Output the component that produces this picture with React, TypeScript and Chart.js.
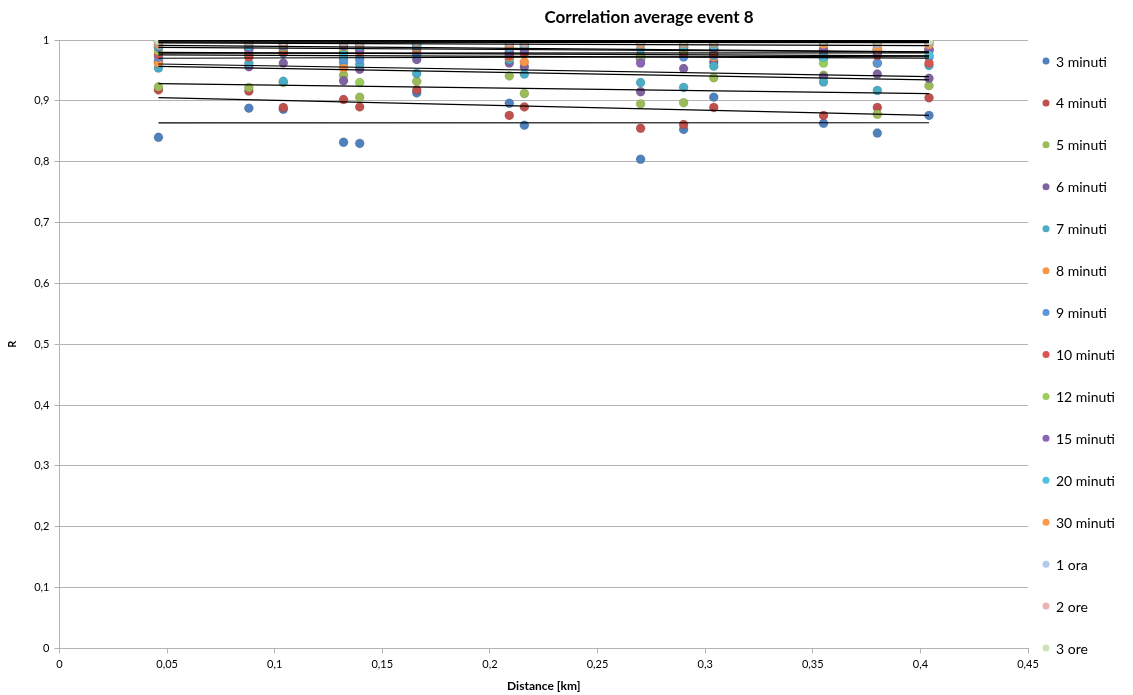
import React, { useEffect, useRef } from "react";
import { Chart, registerables } from "chart.js";

Chart.register(...registerables);

const chartTitle = "Correlation average event 8";
const xTitle = "Distance [km]";
const yTitle = "R";

const distances = [0.046, 0.088, 0.104, 0.132, 0.1395, 0.166, 0.209, 0.216, 0.27, 0.29, 0.304, 0.355, 0.38, 0.404];

const seriesNames = [
  "3 minuti", "4 minuti", "5 minuti", "6 minuti", "7 minuti", "8 minuti", "9 minuti",
  "10 minuti", "12 minuti", "15 minuti", "20 minuti", "30 minuti", "1 ora", "2 ore", "3 ore",
];

const seriesColors = [
  "#4F81BD", "#C0504D", "#9BBB59", "#8064A2", "#4BACC6", "#F79646", "#5A95D8",
  "#D9534F", "#9ACD5A", "#8B63B8", "#4FC1E0", "#F99B4C", "#B4C8EA", "#E9B3B3", "#CFE2BE",
];

const min3 = [0.84, 0.888, 0.886, 0.832, 0.83, 0.913, 0.896, 0.86, 0.804, 0.853, 0.906, 0.863, 0.847, 0.876];
const min4 = [0.918, 0.916, 0.889, 0.902, 0.89, 0.918, 0.876, 0.89, 0.855, 0.861, 0.889, 0.876, 0.889, 0.905];
const min5 = [0.923, 0.922, 0.93, 0.942, 0.906, 0.932, 0.941, 0.912, 0.895, 0.897, 0.938, 0.942, 0.878, 0.925];
const min6 = [0.965, 0.956, 0.962, 0.933, 0.952, 0.968, 0.962, 0.956, 0.915, 0.953, 0.964, 0.939, 0.944, 0.937];
const min7 = [0.954, 0.962, 0.932, 0.962, 0.96, 0.945, 0.968, 0.944, 0.93, 0.922, 0.957, 0.931, 0.917, 0.958];
const min8 = [0.962, 0.978, 0.985, 0.954, 0.975, 0.978, 0.972, 0.964, 0.968, 0.975, 0.972, 0.975, 0.962, 0.985];
const min9 = [0.972, 0.975, 0.978, 0.968, 0.968, 0.976, 0.978, 0.985, 0.97, 0.972, 0.975, 0.97, 0.962, 0.972];
const min10 = [0.976, 0.972, 0.98, 0.98, 0.982, 0.984, 0.974, 0.978, 0.975, 0.98, 0.978, 0.982, 0.975, 0.962];
const min12 = [0.982, 0.985, 0.988, 0.984, 0.93, 0.988, 0.985, 0.99, 0.972, 0.985, 0.984, 0.962, 0.985, 0.982];
const min15 = [0.988, 0.985, 0.99, 0.99, 0.986, 0.99, 0.98, 0.984, 0.962, 0.988, 0.986, 0.985, 0.98, 0.984];
const min20 = [0.99, 0.99, 0.992, 0.975, 0.99, 0.992, 0.988, 0.99, 0.985, 0.99, 0.99, 0.972, 0.985, 0.975];
const min30 = [0.993, 0.995, 0.994, 0.995, 0.993, 0.996, 0.992, 0.994, 0.993, 0.994, 0.995, 0.993, 0.984, 0.992];
const ora1 = [0.997, 0.996, 0.997, 0.996, 0.996, 0.997, 0.996, 0.995, 0.996, 0.996, 0.997, 0.997, 0.994, 0.996];
const ore2 = [0.998, 0.998, 0.998, 0.998, 0.998, 0.998, 0.997, 0.997, 0.997, 0.998, 0.998, 0.998, 0.996, 0.998];
const ore3 = [0.999, 1.0, 0.999, 1.0, 0.999, 0.999, 0.999, 1.0, 0.999, 0.999, 1.0, 0.999, 0.999, 0.999];

const seriesValues = [min3, min4, min5, min6, min7, min8, min9, min10, min12, min15, min20, min30, ora1, ore2, ore3];

const xTicks = [0, 0.05, 0.1, 0.15, 0.2, 0.25, 0.3, 0.35, 0.4, 0.45];
const yTicks = [0, 0.1, 0.2, 0.3, 0.4, 0.5, 0.6, 0.7, 0.8, 0.9, 1];

const FONT = "Lato, 'Open Sans', sans-serif";

function fmt(v: number) {
  const r = Math.round(v * 1000) / 1000;
  return String(r).replace(".", ",");
}

function trend(xs: number[], ys: number[]) {
  const n = xs.length;
  let sx = 0, sy = 0, sxx = 0, sxy = 0;
  for (let i = 0; i < n; i++) {
    sx += xs[i]; sy += ys[i]; sxx += xs[i] * xs[i]; sxy += xs[i] * ys[i];
  }
  const slope = (n * sxy - sx * sy) / (n * sxx - sx * sx);
  const intercept = (sy - slope * sx) / n;
  const x0 = Math.min(...xs);
  const x1 = Math.max(...xs);
  return [
    { x: x0, y: intercept + slope * x0 },
    { x: x1, y: intercept + slope * x1 },
  ];
}

const overlayPlugin = {
  id: "overlay",
  afterDraw(chart: any) {
    const ctx = chart.ctx;
    ctx.save();
    // title
    ctx.fillStyle = "#000";
    ctx.font = `bold 17px ${FONT}`;
    ctx.textAlign = "center";
    ctx.textBaseline = "middle";
    ctx.fillText(chartTitle, 649, 18);
    // legend
    const startY = 61;
    const step = 41.93;
    ctx.textAlign = "left";
    ctx.font = `14px ${FONT}`;
    seriesNames.forEach((name, i) => {
      const y = startY + i * step;
      ctx.beginPath();
      ctx.arc(1046, y, 3.5, 0, Math.PI * 2);
      ctx.fillStyle = seriesColors[i];
      ctx.fill();
      ctx.fillStyle = "#000";
      ctx.fillText(name, 1056, y + 1);
    });
    ctx.restore();
  },
};

export default function App() {
  const canvasRef = useRef<HTMLCanvasElement | null>(null);

  useEffect(() => {
    document.body.style.margin = "0";
    const canvas = canvasRef.current;
    if (!canvas) return;

    const pointSets = seriesNames.map((name, i) => ({
      type: "scatter" as const,
      label: name,
      data: distances.map((d, j) => ({ x: d, y: seriesValues[i][j] })),
      backgroundColor: seriesColors[i],
      borderColor: "rgba(0,0,0,0.18)",
      borderWidth: 0.6,
      pointRadius: 4.5,
      pointHoverRadius: 4.5,
      showLine: false,
      order: 100 - i,
    }));

    const trendSets = seriesNames.map((name, i) => ({
      type: "line" as const,
      label: name + " trend",
      data: trend(distances, seriesValues[i]),
      borderColor: "#000",
      borderWidth: 1.2,
      pointRadius: 0,
      fill: false,
      order: 1,
    }));

    const chart = new Chart(canvas, {
      type: "scatter",
      data: { datasets: [...pointSets, ...trendSets] as any },
      options: {
        animation: false,
        responsive: false,
        maintainAspectRatio: false,
        layout: { padding: { top: 40, right: 105, left: 6, bottom: 2 } },
        plugins: {
          legend: { display: false },
          title: { display: false },
          tooltip: { enabled: false },
        },
        scales: {
          x: {
            type: "linear",
            min: 0,
            max: 0.45,
            afterBuildTicks: (axis: any) => {
              axis.ticks = xTicks.map((v) => ({ value: v }));
            },
            ticks: {
              callback: (v: any) => fmt(Number(v)),
              color: "#000",
              font: { family: FONT, size: 11 },
              padding: 4,
              maxRotation: 0,
              autoSkip: false,
            },
            grid: { drawOnChartArea: false, drawTicks: true, tickLength: 5, color: "#b3b3b3" },
            border: { color: "#b3b3b3", width: 1 },
            title: {
              display: true,
              text: xTitle,
              color: "#000",
              font: { family: FONT, size: 12, weight: "bold" },
              padding: { top: 4, bottom: 0 },
            },
          },
          y: {
            type: "linear",
            min: 0,
            max: 1,
            afterBuildTicks: (axis: any) => {
              axis.ticks = yTicks.map((v) => ({ value: v }));
            },
            ticks: {
              callback: (v: any) => fmt(Number(v)),
              color: "#000",
              font: { family: FONT, size: 11 },
              padding: 5,
              autoSkip: false,
            },
            grid: { color: "#b3b3b3", lineWidth: 1, tickLength: 5, drawTicks: true },
            border: { color: "#b3b3b3", width: 1 },
            title: {
              display: true,
              text: yTitle,
              color: "#000",
              font: { family: FONT, size: 11, weight: "bold" },
              padding: { top: 0, bottom: 10 },
            },
          },
        },
      },
      plugins: [overlayPlugin],
    });

    return () => chart.destroy();
  }, []);

  return (
    <div style={{ width: 1133, height: 695, background: "#fff" }}>
      <canvas ref={canvasRef} width={1133} height={695} style={{ display: "block" }} />
    </div>
  );
}
